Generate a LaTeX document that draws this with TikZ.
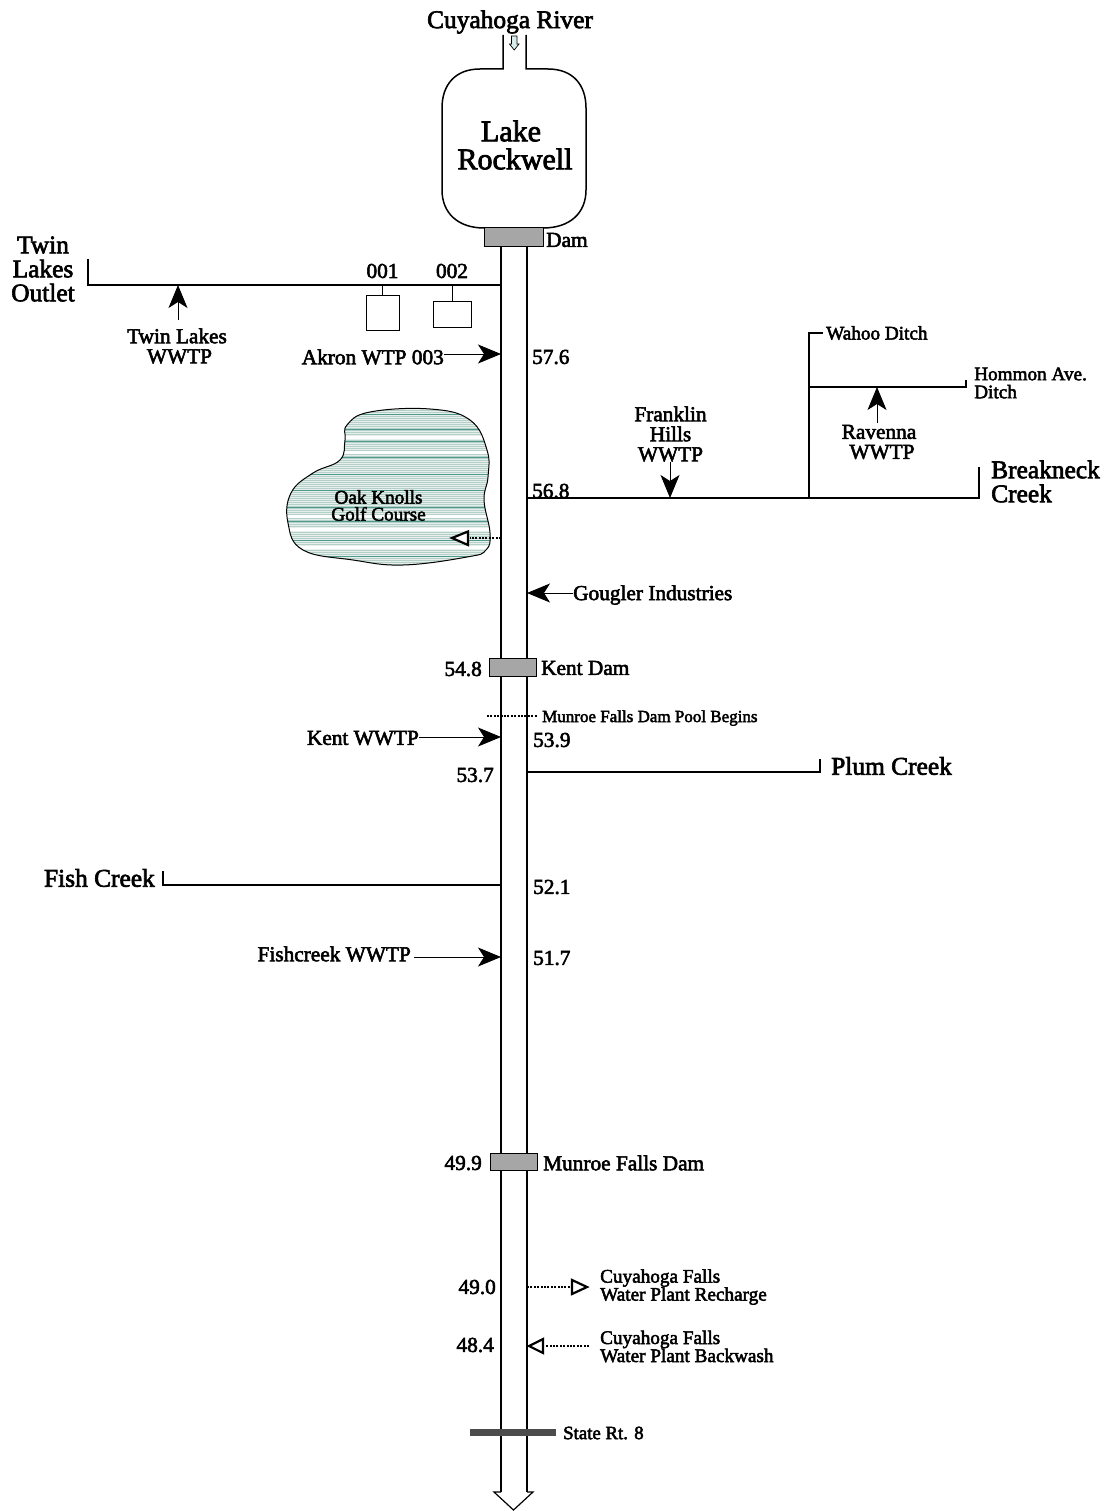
\documentclass[tikz,border=0pt]{standalone}
\usepackage{fontspec}
\setmainfont[FakeBold=2.6]{Liberation Serif}
\usetikzlibrary{arrows.meta}
\definecolor{golfbg}{HTML}{E6EFEC}
\definecolor{golfln}{HTML}{B4D0C9}
\definecolor{golfdk}{HTML}{4F9A8C}
\tikzset{
  x=1pt,y=-1pt,
  line/.style={line width=1.1pt,black},
  rv/.style={line width=2pt,black},
  arsm/.style={line width=.9pt,-{Stealth[length=23pt,width=19pt,inset=6pt]}},
  dot/.style={line width=1.5pt,dash pattern=on 2pt off 1.4pt},
  hollow/.style={draw=black,line width=2.2pt,fill=white,line join=miter},
  dam/.style={draw=black,line width=.6pt,fill=black!35},
  lab/.style={inner sep=0pt,align=center,text=black},
  n/.style={lab,font=\fontsize{21.3}{20}\selectfont},
  big/.style={lab,font=\fontsize{25.4}{24}\selectfont},
  small/.style={lab,font=\fontsize{19.2}{18}\selectfont},
}
\begin{document}
\begin{tikzpicture}
\useasboundingbox (0,0) rectangle (1105,1511);
% golf course
\def\blob{plot[smooth cycle,tension=.7] coordinates {(347,425)(370,412)(430,409)(470,420)(487,450)(488,477)(484,500)(490,533)(486,550)(467,557)(403,565)(353,560)(303,550)(288,523)(291,493)(313,473)(340,460)(345,440)}}
\begin{scope}
\clip \blob;
\fill[golfbg] (280,405) rectangle (495,570);
\foreach \y in {410,412,...,570}{\draw[line width=.8pt,color=golfln] (280,\y) -- (495,\y);}
\foreach \y in {414,429,441,457,474,490,507,521,540,556}{\draw[line width=.6pt,color=golfdk] (280,\y) -- (495,\y);}
\foreach \y in {436,451,515,528,546}{\fill[white] (280,\y) rectangle (495,\y+3);}
\end{scope}
\draw[line width=1pt] \blob;
\node[small] (golf) at (378.5,505.5) {Oak Knolls\\[-1pt]Golf Course};
% river and lake
\coordinate (rl0) at (501,247); \coordinate (rl1) at (501,1492);
\coordinate (rr0) at (527,247); \coordinate (rr1) at (527,1492);
\draw[rv] (rl0) -- (rl1);
\draw[rv] (rr0) -- (rr1);
\draw[line width=1.2pt,fill=white] (rl1) -- (494,1492) -- (513.5,1510) -- (533,1492) -- (rr1);
\draw[line width=1.5pt] (503,35) -- (503,69) -- (480,69) .. controls (455,69) and (442,85) .. (442,108)
  -- (442,190) .. controls (442,213) and (458,228) .. (484,228);
\draw[line width=1.5pt] (526,35) -- (526,69) -- (548,69) .. controls (573,69) and (586,85) .. (586,108)
  -- (586,190) .. controls (586,213) and (570,228) .. (543,228);
\draw[line width=.7pt,fill=teal!15] (511.5,36) -- (517,36) -- (517,44) -- (519,44) -- (514.2,50) -- (509.5,44) -- (511.5,44) -- cycle;
\node[big] (river) at (510,22) {Cuyahoga River};
\node[lab,font=\fontsize{30}{28}\selectfont] (lake) at (515,145) {Lake\hbox to 8pt{}\\Rockwell};
% dams
\node[dam,minimum width=59pt,minimum height=19pt,inner sep=0pt] (d1) at (513.5,236.5) {};
\node[n,anchor=west] (d1t) at (546,240) {Dam};
\node[dam,minimum width=47pt,minimum height=18pt,inner sep=0pt] (d2) at (512.5,667) {};
\node[n,anchor=west] (d2t) at (541,668) {Kent Dam};
\node[n,anchor=east] (d2n) at (482,669) {54.8};
\node[dam,minimum width=47pt,minimum height=17pt,inner sep=0pt] (d3) at (513.5,1161.5) {};
\node[n,anchor=west] (d3t) at (543,1163) {Munroe Falls Dam};
\node[n,anchor=east] (d3n) at (482,1163) {49.9};
% Twin Lakes
\node[big] (tl) at (43,269) {Twin\\Lakes\\Outlet};
\coordinate (tlend) at (88,259); \coordinate (tlj) at (501,285);
\draw[line] (tlend) |- (tlj);
\node[n] (o1) at (382.5,271) {001};
\node[n] (o2) at (452,271) {002};
\node[draw,line width=.9pt,minimum width=33pt,minimum height=35pt,inner sep=0pt] (b1) at (382.5,312.5) {};
\node[draw,line width=.9pt,minimum width=38pt,minimum height=26pt,inner sep=0pt] (b2) at (452,314) {};
\draw[line width=.8pt] (b1.north) -- (382.5,285);
\draw[line width=.8pt] (b2.north) -- (452,285);
\node[n] (tw) at (177,346) {Twin Lakes\\\hspace{5pt}WWTP};
\coordinate (tlh) at (178,285);
\draw[arsm] (178,320) -- (tlh);
% Akron
\node[n,anchor=east] (ak) at (444,357) {Akron WTP 003};
\coordinate (akh) at (501,354);
\draw[arsm] (ak.east|-akh) -- (akh);
\node[n,anchor=west] (n576) at (532,357) {57.6};
% Breakneck
\node[n,anchor=west] (n568) at (532,491) {56.8};
\coordinate (bj) at (527,498); \coordinate (bend) at (979,467);
\draw[line] (bj) -| (bend);
\node[big,anchor=west,align=left] (bn) at (991,481.5) {Breakneck\\Creek};
\node[n] (fh) at (670.5,434) {Franklin\\Hills\\WWTP};
\coordinate (fhh) at (670,498);
\draw[arsm] (670,462) -- (fhh);
\coordinate (wj) at (809,498); \coordinate (wt) at (823,333);
\draw[line] (wj) |- (wt);
\node[small,anchor=west] (wd) at (826,333) {Wahoo Ditch};
\coordinate (hj) at (809,387); \coordinate (hend) at (966,380);
\draw[line] (hj) -| (hend);
\node[small,anchor=west,align=left] (hd) at (974,383) {Hommon Ave.\\Ditch};
\node[n] (rv) at (879,442) {Ravenna\\\hspace{6pt}WWTP};
\coordinate (rvh) at (877,387);
\draw[arsm] (877,423) -- (rvh);
% golf return
\coordinate (gj) at (501,538);
\draw[dot] (gj) -- (470,538);
\draw[hollow] (468,531.5) -- (452,538) -- (468,545) -- cycle;
% Gougler
\node[n,anchor=west] (go) at (573,595) {Gougler Industries};
\coordinate (goh) at (527,593);
\draw[arsm] (go.west|-goh) -- (goh);
% Munroe pool
\coordinate (mp0) at (487,716); \coordinate (mp1) at (537,716);
\draw[line width=1.2pt,dash pattern=on 2pt off 1.4pt] (mp0) -- (mp1);
\node[lab,font=\fontsize{17}{18}\selectfont,anchor=west] (mpt) at (542,718) {Munroe Falls Dam Pool Begins};
% Kent
\node[n,anchor=east] (kw) at (419,738) {Kent WWTP};
\coordinate (kwh) at (501,737);
\draw[arsm] (kw.east|-kwh) -- (kwh);
\node[n,anchor=west] (n539) at (533,740) {53.9};
\node[n,anchor=east] (n537) at (494,775) {53.7};
\coordinate (pj) at (527,772); \coordinate (pend) at (820,759);
\draw[line] (pj) -| (pend);
\node[big,anchor=west] (plum) at (831,766) {Plum Creek};
% Fish
\coordinate (fj) at (501,885); \coordinate (fend) at (163,871);
\draw[line] (fj) -| (fend);
\node[big,anchor=east] (fc) at (155,878) {Fish Creek};
\node[n,anchor=west] (n521) at (533,887) {52.1};
\node[n,anchor=east] (fw) at (411,954) {Fishcreek WWTP};
\coordinate (fwh) at (501,957);
\draw[arsm] (414,957) -- (fwh);
\node[n,anchor=west] (n517) at (533,958) {51.7};
% Cuyahoga Falls
\node[n,anchor=east] (n490) at (496,1287) {49.0};
\node[n,anchor=east] (n484) at (494,1345) {48.4};
\coordinate (cj) at (527,1287);
\draw[dot] (cj) -- (571,1287);
\draw[hollow] (572,1280) -- (587,1287) -- (572,1294) -- cycle;
\node[small,anchor=west,align=left] (cr) at (600,1287) {Cuyahoga Falls\\Water Plant Recharge};
\coordinate (bw) at (589,1346);
\draw[dot] (bw) -- (545,1346);
\draw[hollow] (543,1339) -- (529,1346) -- (543,1353) -- cycle;
\node[small,anchor=west,align=left] (cb) at (600,1346.5) {Cuyahoga Falls\\Water Plant Backwash};
% State Rt 8
\node[fill=black!70,minimum width=86pt,minimum height=7pt,inner sep=0pt] (sr) at (513,1432) {};
\node[lab,font=\fontsize{18.8}{18}\selectfont,anchor=west] (srt) at (563,1433) {State Rt. 8};
\end{tikzpicture}
\end{document}
